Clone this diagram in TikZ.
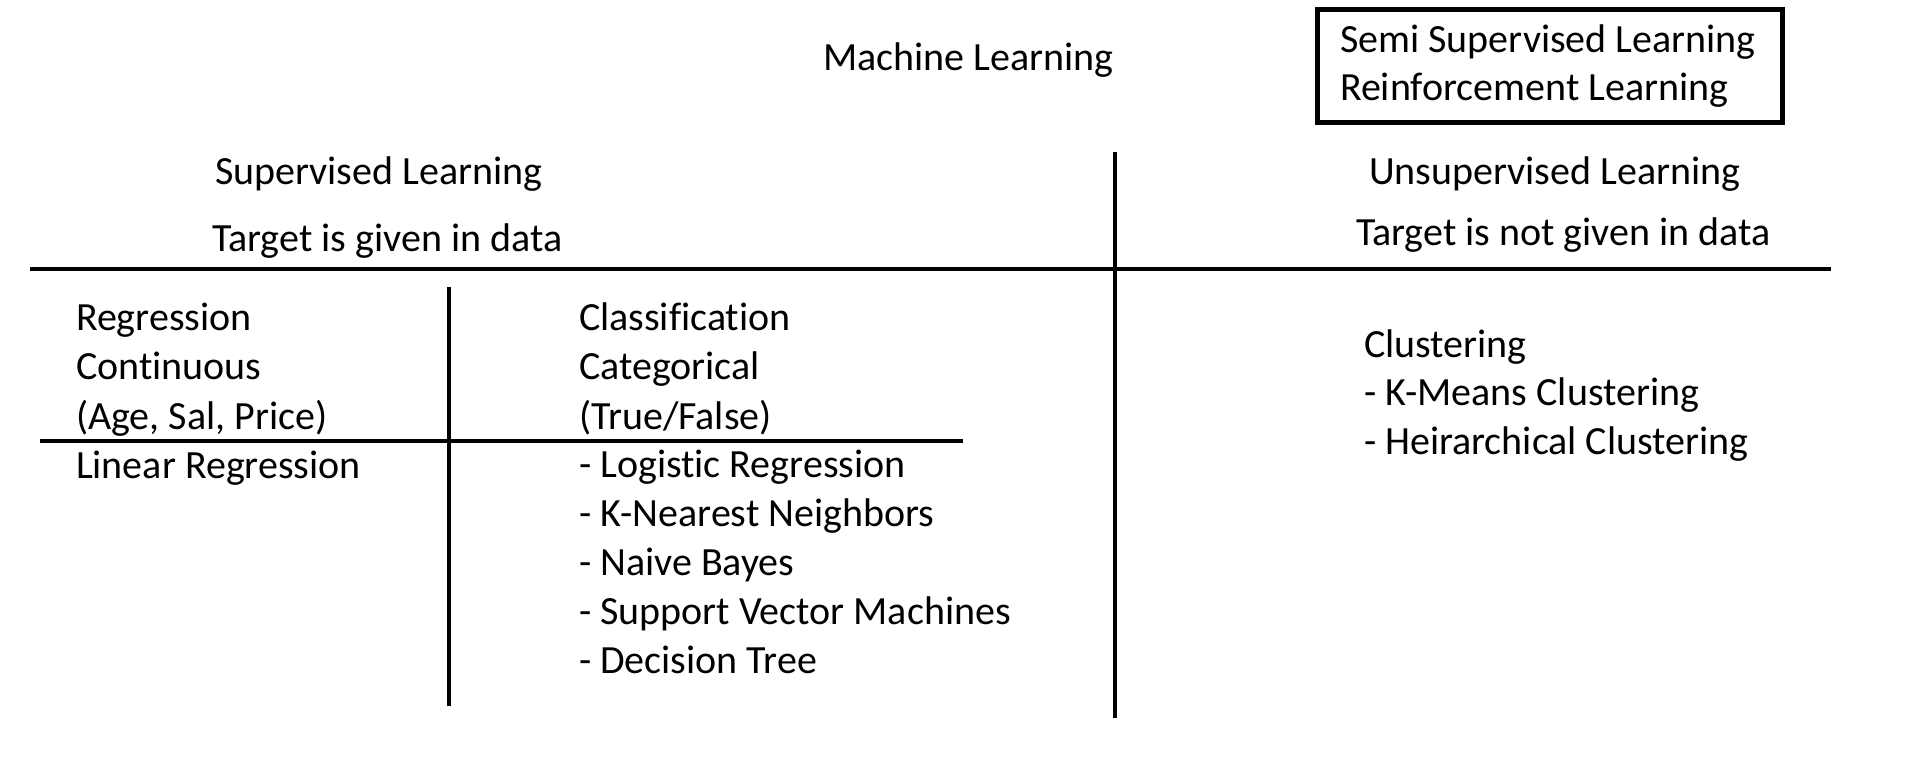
\documentclass[tikz,border=0pt]{standalone}
\usepackage{fontspec}
\setmainfont{Carlito}[Ligatures=NoCommon]
\begin{document}
\begin{tikzpicture}[x=1pt,y=-1pt,
  txt/.style={anchor=base west,inner sep=0pt,outer sep=0pt,font=\fontsize{40pt}{48pt}\selectfont},
  rule/.style={line width=4pt,black},
  boxline/.style={line width=5pt,black}]
\useasboundingbox[fill=white] (0,0) rectangle (1906,764);
% coordinates for lines
\coordinate (hL) at (30,269);
\coordinate (hR) at (1831,269);
\coordinate (vT) at (1115,152);
\coordinate (vB) at (1115,718);
\coordinate (sT) at (449,287);
\coordinate (sB) at (449,706);
\coordinate (shL) at (40,441);
\coordinate (shR) at (963,441);
\coordinate (bxA) at (1317.5,9.5);
\coordinate (bxB) at (1782.5,122.5);
\draw[rule] (hL) -- (hR);
\draw[rule] (vT) -- (vB);
\draw[rule] (sT) -- (sB);
\draw[rule] (shL) -- (shR);
\draw[boxline] (bxA) rectangle (bxB);
% texts
\node[txt] (ml) at (823,70) {Machine Learning};
\node[txt] (semi) at (1340,52) {Semi Supervised Learning};
\node[txt] (reinf) at (1340,100) {Reinforcement Learning};
\node[txt] (sup) at (215,184) {Supervised Learning};
\node[txt] (tgt) at (212,251) {Target is given in data};
\node[txt] (unsup) at (1369,184) {Unsupervised Learning};
\node[txt] (ntgt) at (1356,245) {Target is not given in data};
\node[txt] (reg) at (76,330) {Regression};
\node[txt] (cont) at (76,379) {Continuous};
\node[txt] (age) at (76,429) {(Age, Sal, Price)};
\node[txt] (lin) at (76,478) {Linear Regression};
\node[txt] (cls) at (579,330) {Classification};
\node[txt] (cat) at (579,379) {Categorical};
\node[txt] (tf) at (579,429) {(True/False)};
\node[txt] (logr) at (579,477) {- Logistic Regression};
\node[txt] (knn) at (579,526) {- K-Nearest Neighbors};
\node[txt] (nb) at (579,575) {- Naive Bayes};
\node[txt] (svm) at (579,624) {- Support Vector Machines};
\node[txt] (dt) at (579,673) {- Decision Tree};
\node[txt] (clu) at (1364,357) {Clustering};
\node[txt] (km) at (1364,405) {- K-Means Clustering};
\node[txt] (hc) at (1364,454) {- Heirarchical Clustering};
\end{tikzpicture}
\end{document}
